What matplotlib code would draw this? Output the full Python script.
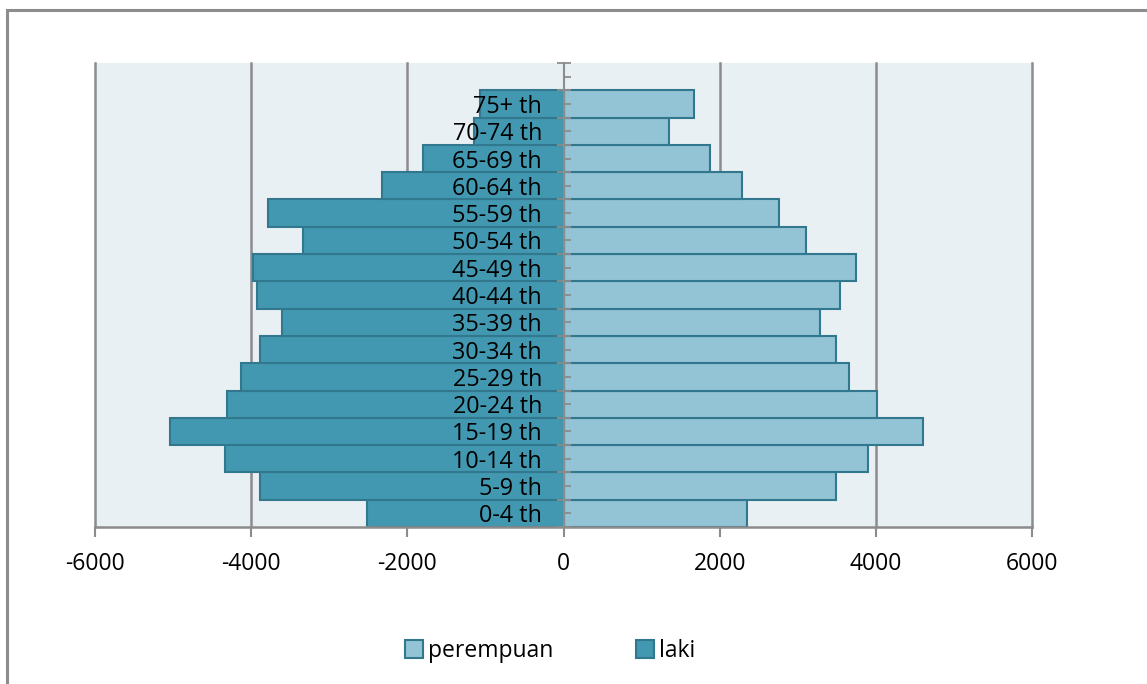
import matplotlib
matplotlib.use("Agg")
import matplotlib.pyplot as plt
from matplotlib.patches import Rectangle, Patch
import numpy as np

categories = ["0-4 th", "5-9 th", "10-14 th", "15-19 th", "20-24 th", "25-29 th",
              "30-34 th", "35-39 th", "40-44 th", "45-49 th", "50-54 th", "55-59 th",
              "60-64 th", "65-69 th", "70-74 th", "75+ th"]
laki = [-2520, -3890, -4340, -5045, -4315, -4125, -3890, -3610, -3930, -3980,
        -3330, -3790, -2320, -1795, -1150, -1065]
perempuan = [2345, 3495, 3905, 4610, 4010, 3650, 3495, 3290, 3545, 3740,
             3100, 2755, 2280, 1870, 1355, 1665]
xticks = [-6000, -4000, -2000, 0, 2000, 4000, 6000]

W, H = 1147, 684
fig = plt.figure(figsize=(W / 100, H / 100), dpi=100)
plt.rcParams['font.family'] = ['Open Sans', 'DejaVu Sans']

# outer chart border
fig.patches.append(Rectangle((7 / W, -0.05), 1.2, (H - 10) / H + 0.05, transform=fig.transFigure,
                             fill=False, edgecolor='#8c8c8c', linewidth=2.2, zorder=0))

left, right, top, bottom = 95, 1032, 63, 527
ax = fig.add_axes([left / W, 1 - bottom / H, (right - left) / W, (bottom - top) / H])
ax.set_facecolor('#e9f0f4')

dark = '#4298b0'
light = '#93c4d6'
edge = '#31788f'
y = np.arange(len(categories))
ax.barh(y, perempuan, height=1.0, color=light, edgecolor=edge, linewidth=1.5, zorder=2, label='perempuan')
ax.barh(y, laki, height=1.0, color=dark, edgecolor=edge, linewidth=1.5, zorder=2, label='laki')

ax.set_xlim(-6000, 6000)
ax.set_ylim(-0.5, len(categories) + 0.5)

for xv in xticks:
    if xv != 0:
        ax.axvline(xv, color='#8c8c8c', linewidth=1.8, zorder=1, clip_on=False)

for s in ['top', 'right']:
    ax.spines[s].set_visible(False)
for s in ['left', 'bottom']:
    ax.spines[s].set_color('#8c8c8c')
    ax.spines[s].set_linewidth(1.8)
ax.spines['left'].set_position(('data', 0))
ax.spines['left'].set_zorder(5)
ax.spines['left'].set_linewidth(1.5)
ax.spines['bottom'].set_zorder(5)

ax.set_xticks(xticks)
ax.set_xticklabels([str(v) for v in xticks], fontsize=16.5)
ax.tick_params(axis='x', direction='out', length=7, width=1.5, color='#8c8c8c', pad=11)

ax.set_yticks(list(y) + [len(categories)])
ax.set_yticklabels(categories + [""], fontsize=16.8)
ax.tick_params(axis='y', which='major', direction='in', length=5, width=1.3, color='#8c8c8c', pad=15.5)
ax.set_yticks(np.arange(-0.5, len(categories) + 1, 1.0), minor=True)
ax.tick_params(axis='y', which='minor', direction='inout', length=10, width=1.3, color='#8c8c8c')
ax.yaxis.set_zorder(6)
ax.xaxis.set_zorder(6)

handles = [Patch(facecolor=light, edgecolor=edge, linewidth=1.5, label='perempuan'),
           Patch(facecolor=dark, edgecolor=edge, linewidth=1.5, label='laki')]
fig.legend(handles=handles, loc='center', bbox_to_anchor=(550 / W, 1 - 651 / H), ncol=2,
           frameon=False, fontsize=16.5, handlelength=0.8, handleheight=0.8,
           handletextpad=0.2, columnspacing=3.6)

fig.savefig('out.png', dpi=100, facecolor='white')
